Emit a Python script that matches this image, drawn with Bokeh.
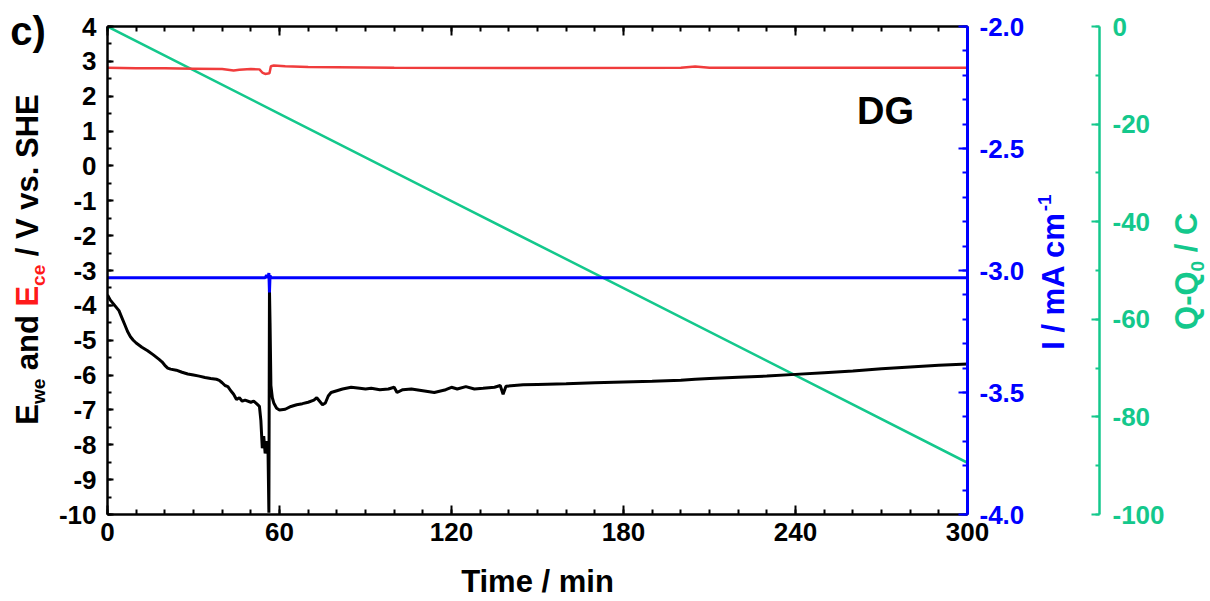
from math import pi
from bokeh.plotting import figure
from bokeh.layouts import row
from bokeh.models import (Range1d, LinearAxis, SingleIntervalTicker, FixedTicker,
                          NumeralTickFormatter, CustomJSTickFormatter, Label)
from bokeh.core.properties import value
from bokeh.embed import file_html
from bokeh.resources import INLINE

# ---------------- data ----------------
time_we = [0, 1, 2, 3, 4, 5, 6, 7, 8, 9, 10, 12, 14, 16, 18, 19, 20, 21, 22, 24, 26, 28,
           30, 32, 34, 36, 38, 39, 40, 41, 42, 43, 44, 45, 46, 47, 48, 50, 51, 52, 53,
           53.5, 54, 54.5, 55, 55.5, 56, 56.3, 56.5, 56.7, 57, 57.5, 58, 59, 60, 62, 64,
           66, 68, 70, 72, 73, 74, 75, 76, 77, 78, 80, 82, 85, 88, 90, 92, 95, 98, 100,
           101, 103, 106, 110, 114, 118, 120, 122, 125, 128, 131, 135, 137, 138, 139,
           145, 150, 160, 170, 180, 190, 200, 205, 210, 220, 230, 240, 250, 260, 270,
           280, 290, 300]
e_we = [-3.70, -3.85, -3.95, -4.05, -4.15, -4.35, -4.55, -4.75, -4.90, -5.00, -5.08,
        -5.20, -5.30, -5.42, -5.55, -5.62, -5.72, -5.80, -5.83, -5.86, -5.92, -5.97,
        -6.00, -6.03, -6.07, -6.10, -6.12, -6.15, -6.22, -6.30, -6.33, -6.45, -6.55,
        -6.70, -6.65, -6.75, -6.72, -6.78, -6.75, -6.82, -6.90,
        -7.30, -8.10, -7.75, -8.25, -7.90, -8.20, -9.95, -3.55, -4.50, -6.30, -6.65,
        -6.80, -6.95, -7.00, -6.98, -6.90,
        -6.85, -6.82, -6.78, -6.72, -6.65, -6.75, -6.85, -6.80, -6.60, -6.50, -6.45,
        -6.40, -6.35, -6.38, -6.40, -6.38, -6.42, -6.40, -6.35,
        -6.50, -6.42, -6.40, -6.45, -6.50, -6.42, -6.35, -6.40, -6.33, -6.40, -6.38,
        -6.35, -6.30, -6.55, -6.32,
        -6.28, -6.27, -6.25, -6.22, -6.20, -6.18, -6.15, -6.12, -6.10, -6.06, -6.03,
        -5.98, -5.93, -5.88, -5.82, -5.77, -5.72, -5.68]

time_ce = [0, 10, 20, 30, 40, 44, 46, 50, 53, 54, 55, 56.5, 57, 58, 62, 70, 100, 150,
           200, 205, 210, 250, 300]
e_ce = [2.82, 2.80, 2.80, 2.79, 2.78, 2.74, 2.76, 2.78, 2.77, 2.68, 2.64, 2.66, 2.86,
        2.88, 2.86, 2.84, 2.82, 2.81, 2.82, 2.85, 2.82, 2.82, 2.82]

time_i = [0, 55, 55.5, 56, 56.3, 56.5, 56.7, 57, 300]
current = [-3.03, -3.03, -3.02, -3.03, -3.01, -3.09, -3.02, -3.03, -3.03]

time_q = [0, 60, 120, 180, 240, 300]
charge = [0, -17.9, -35.8, -53.6, -71.5, -89.4]

# ---------------- style ----------------
FONT = "Liberation Sans"
BLACK = "#000000"
RED = "#f03c3c"
RED_TEXT = "#ff1a1a"
BLUE = "#0000ff"
GREEN = "#14c88c"
H = 601
TOP, BOTTOM = 26, H - 515      # frame top / bottom border shared by all panels
FH = 515 - TOP                 # frame height in px
SHIFT = 0.38                   # anchor -> baseline offset (em) of rendered text


def blank(fig):
    fig.xgrid.visible = False
    fig.ygrid.visible = False
    fig.outline_line_color = None
    fig.background_fill_color = "white"
    fig.border_fill_color = "white"


def style_axis(ax, color, tick_in, minor_in, label_size="26px", standoff=10, lw=2.5):
    ax.axis_line_color = color
    ax.axis_line_width = lw
    ax.major_tick_line_color = color
    ax.minor_tick_line_color = color
    ax.major_tick_line_width = 2
    ax.minor_tick_line_width = 2
    ax.major_tick_in = tick_in
    ax.major_tick_out = 0
    ax.minor_tick_in = minor_in
    ax.minor_tick_out = 0
    ax.major_label_text_font = FONT
    ax.major_label_text_font_style = "bold"
    ax.major_label_text_font_size = label_size
    ax.major_label_text_color = color
    ax.major_label_standoff = standoff


def vtxt(fig, s, base_x, y, size, color=BLACK):
    """vertical text reading bottom-to-top, baseline at base_x (px in panel)"""
    fig.text(x=[base_x - SHIFT * size], y=[y], text=[s], angle=pi / 2,
             text_font=value(FONT), text_font_style=value("bold"),
             text_font_size=value(f"{size}px"), text_color=value(color),
             text_align=value("left"), text_baseline=value("alphabetic"))


# ---------------- main plot ----------------
p = figure(width=975, height=H, x_range=Range1d(0, 300), y_range=Range1d(-10, 4),
           output_backend="svg", toolbar_location=None,
           min_border_left=52, min_border_right=63, min_border_top=TOP,
           min_border_bottom=BOTTOM)
p.extra_y_ranges = {"I": Range1d(-4, -2), "Q": Range1d(-100, 0)}
blank(p)

xax = p.xaxis[0]
xax.ticker = SingleIntervalTicker(interval=60, num_minor_ticks=6)
xax.formatter = NumeralTickFormatter(format="0")
style_axis(xax, BLACK, 9, 5, standoff=8)
xax.axis_label = "Time / min"
xax.axis_label_text_font = FONT
xax.axis_label_text_font_style = "bold"
xax.axis_label_text_font_size = "31px"
xax.axis_label_text_color = BLACK
xax.axis_label_standoff = 20

yax = p.yaxis[0]
yax.ticker = SingleIntervalTicker(interval=1, num_minor_ticks=2)
yax.formatter = NumeralTickFormatter(format="0")
style_axis(yax, BLACK, 6, 4, standoff=11)

top = LinearAxis(ticker=SingleIntervalTicker(interval=60, num_minor_ticks=6),
                 formatter=CustomJSTickFormatter(code="return ''"))
style_axis(top, BLACK, 9, 5, label_size="1px", standoff=0)
p.add_layout(top, "above")

blue_ax = LinearAxis(y_range_name="I",
                     ticker=SingleIntervalTicker(interval=0.5, num_minor_ticks=5),
                     formatter=NumeralTickFormatter(format="0.0"))
style_axis(blue_ax, BLUE, 9, 5, standoff=12, lw=3)
p.add_layout(blue_ax, "right")

p.line(time_q, charge, y_range_name="Q", line_color=GREEN, line_width=2.5)
p.line(time_ce, e_ce, line_color=RED, line_width=2.5)
p.line(time_we, e_we, line_color=BLACK, line_width=3)
p.line(time_i, current, y_range_name="I", line_color=BLUE, line_width=3)

p.add_layout(Label(text="DG", x=778, y=404, x_units="screen", y_units="screen",
                   text_align="center", text_baseline="alphabetic", text_font=FONT,
                   text_font_style="bold", text_font_size="38px", text_color=BLACK))

# ---------------- left title panel ----------------
fa = figure(width=55, height=H, x_range=Range1d(0, 55), y_range=Range1d(0, FH),
            output_backend="svg", toolbar_location=None,
            x_axis_location=None, y_axis_location=None,
            min_border_left=0, min_border_right=0, min_border_top=TOP,
            min_border_bottom=BOTTOM)
blank(fa)
F, f = 31, 19
bx, sbx = 39, 45
y0 = 90
vtxt(fa, "E", bx, y0, F)
y1 = y0 + 0.667 * F
vtxt(fa, "we", sbx, y1, f)
y2 = y1 + 1.334 * f + 0.278 * F
vtxt(fa, "and", bx, y2, F)
y3 = y2 + 1.778 * F + 0.278 * F
vtxt(fa, "E", bx, y3, F, color=RED_TEXT)
y4 = y3 + 0.667 * F
vtxt(fa, "ce", sbx, y4, f, color=RED_TEXT)
y5 = y4 + 1.112 * f + 0.278 * F
vtxt(fa, "/ V vs. SHE", bx, y5, F)

# panel letter carried by an invisible top axis (not clipped by the frame)
letter = LinearAxis(ticker=FixedTicker(ticks=[]))
letter.axis_line_color = None
letter.major_tick_line_color = None
letter.minor_tick_line_color = None
letter.major_tick_in = 0
letter.major_tick_out = 0
letter.minor_tick_in = 0
letter.minor_tick_out = 0
letter.axis_label = "c)"
letter.axis_label_text_font = FONT
letter.axis_label_text_font_style = "bold"
letter.axis_label_text_font_size = "40px"
letter.axis_label_text_color = BLACK
letter.axis_label_standoff = -26
fa.add_layout(letter, "above")

# ---------------- charge axis panel ----------------
fc = figure(width=137, height=H, x_range=Range1d(0, 69), y_range=Range1d(0, FH),
            output_backend="svg", toolbar_location=None,
            x_axis_location=None, y_axis_location=None,
            min_border_left=0, min_border_right=68, min_border_top=TOP,
            min_border_bottom=BOTTOM)
fc.extra_y_ranges = {"Q": Range1d(-100, 0)}
blank(fc)
green_ax = LinearAxis(y_range_name="Q",
                      ticker=SingleIntervalTicker(interval=20, num_minor_ticks=2),
                      formatter=NumeralTickFormatter(format="0"))
style_axis(green_ax, GREEN, 8, 4, standoff=13)
fc.add_layout(green_ax, "right")
fc.line(time_q, charge, y_range_name="Q", line_alpha=0)
# blue title: panel x 0 == page 1030; y 0 == page 515
vtxt(fc, "I / mA cm", 1065 - 1030, 165, F, color=BLUE)
vtxt(fc, "-1", 1051 - 1030, 165 + 4.446 * F + 1, f, color=BLUE)

# ---------------- green title panel ----------------
fd = figure(width=42, height=H, x_range=Range1d(0, 42), y_range=Range1d(0, FH),
            output_backend="svg", toolbar_location=None,
            x_axis_location=None, y_axis_location=None,
            min_border_left=0, min_border_right=0, min_border_top=TOP,
            min_border_bottom=BOTTOM)
blank(fd)
gq = 185
vtxt(fd, "Q-Q", 1198 - 1167, gq, F, color=GREEN)
vtxt(fd, "0", 1204 - 1167, gq + 1.889 * F, f, color=GREEN)
vtxt(fd, "/ C", 1198 - 1167, gq + 1.889 * F + 0.556 * f + 0.278 * F, F, color=GREEN)

layout = row(fa, p, fc, fd, spacing=0)
open("out.html", "w").write(file_html(layout, INLINE))
